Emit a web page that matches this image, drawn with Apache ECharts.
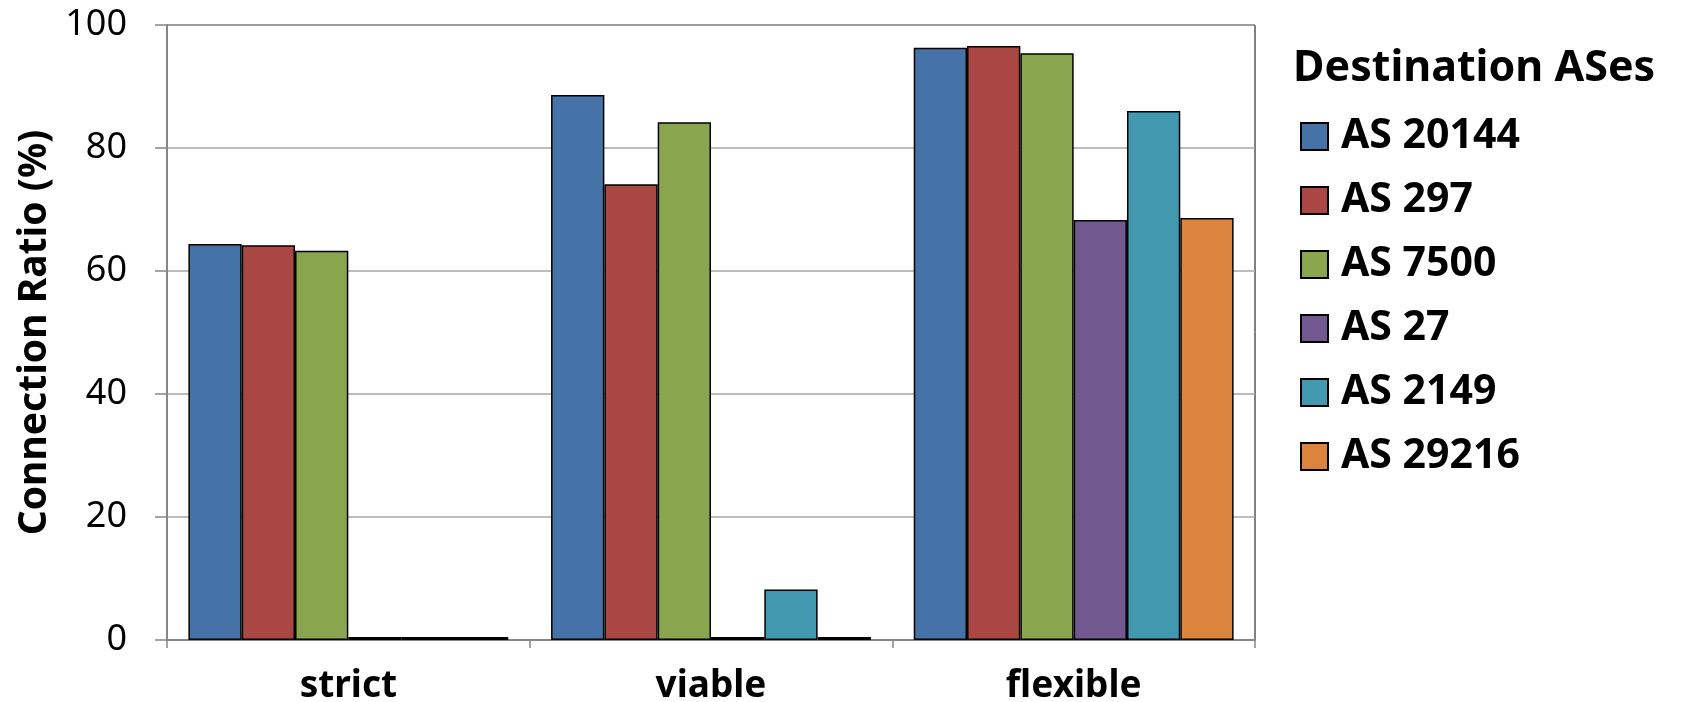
<!DOCTYPE html>
<html>
<head>
<meta charset="utf-8">
<script src="https://cdn.jsdelivr.net/npm/echarts@6/dist/echarts.min.js"></script>
<style>html,body{margin:0;padding:0;background:#fff}#chart{width:1683px;height:702px}</style>
</head>
<body>
<div id="chart"></div>
<script>
const categories = ['strict', 'viable', 'flexible'];
const seriesNames = ['AS 20144', 'AS 297', 'AS 7500', 'AS 27', 'AS 2149', 'AS 29216'];
const as20144 = [64.4, 88.6, 96.3];
const as297 = [64.2, 74.1, 96.6];
const as7500 = [63.3, 84.2, 95.4];
const as27 = [0.5, 0.5, 68.3];
const as2149 = [0.5, 8.2, 86.0];
const as29216 = [0.5, 0.5, 68.6];
const yTicks = [0, 20, 40, 60, 80, 100];
const colors = ['#4572A7', '#AA4643', '#89A54E', '#71588F', '#4198AF', '#DB843D'];
const allValues = [as20144, as297, as7500, as27, as2149, as29216];

const FONT = '"Noto Sans", "Open Sans", sans-serif';
const chart = echarts.init(document.getElementById('chart'), null, {renderer: 'canvas'});
chart.setOption({
  animation: false,
  textStyle: {fontFamily: FONT},
  title: {
    text: 'Destination ASes',
    left: 1288, top: 42,
    textStyle: {fontFamily: FONT, fontSize: 43, fontWeight: 'bold', color: '#000'}
  },
  legend: {
    orient: 'vertical',
    left: 1295, top: 111,
    itemWidth: 27, itemHeight: 27, itemGap: 23,
    icon: 'rect',
    data: seriesNames,
    textStyle: {fontFamily: FONT, fontSize: 41, fontWeight: 'bold', color: '#000', lineHeight: 41, padding: [0, 0, 0, 8]}
  },
  grid: {
    left: 167, right: 428, top: 25, bottom: 62,
    outerBoundsMode: 'none',
    containLabel: false,
    show: true, borderColor: '#000', borderWidth: 1, backgroundColor: 'transparent'
  },
  xAxis: {
    type: 'category',
    data: categories,
    axisLine: {lineStyle: {color: '#868686', width: 2}},
    axisTick: {show: true, length: 8, inside: false, lineStyle: {color: '#868686', width: 1.5}},
    axisLabel: {fontFamily: FONT, fontSize: 37, fontWeight: 'bold', color: '#000', margin: 28}
  },
  yAxis: {
    type: 'value',
    min: 0, max: 100, interval: 20,
    name: 'Connection Ratio (%)',
    nameLocation: 'middle',
    nameGap: 107,
    nameTextStyle: {fontFamily: FONT, fontSize: 39, fontWeight: 'bold', color: '#000', lineHeight: 39},
    axisLine: {show: true, lineStyle: {color: '#868686', width: 2}},
    axisTick: {show: true, length: 12, inside: false, lineStyle: {color: '#868686', width: 1.5}},
    axisLabel: {
      fontFamily: FONT, fontSize: 36, color: '#000', margin: 40,
      formatter: v => (yTicks.indexOf(v) >= 0 ? String(v) : '')
    },
    splitLine: {lineStyle: {color: '#a6a6a6', width: 1.5}}
  },
  series: seriesNames.map((name, i) => ({
    name: name,
    type: 'bar',
    data: allValues[i],
    barGap: '0%',
    barCategoryGap: '11.8%',
    itemStyle: {color: colors[i], borderColor: '#000', borderWidth: 1.5}
  }))
});
</script>
</body>
</html>
